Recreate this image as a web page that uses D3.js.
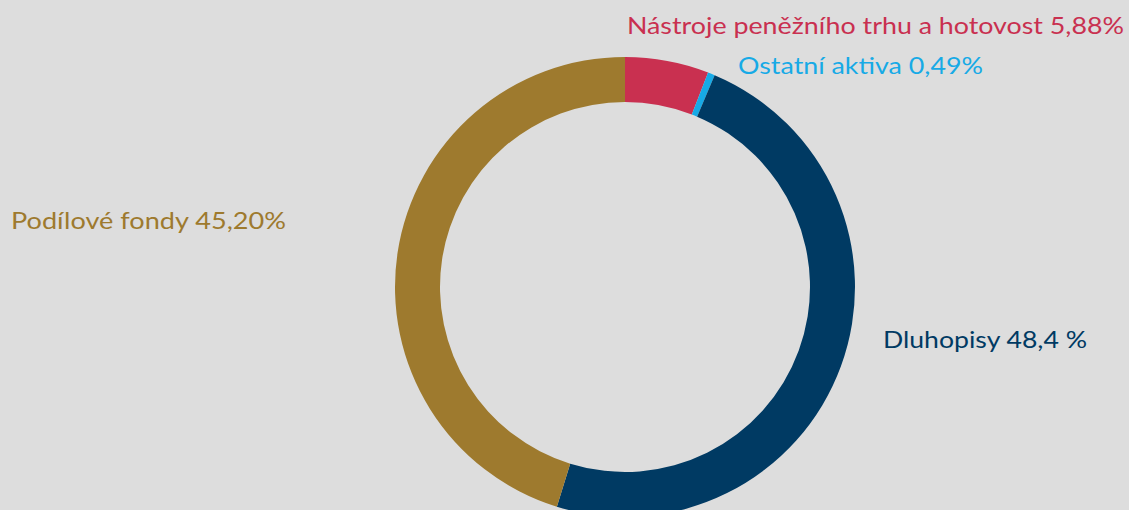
<!DOCTYPE html>
<html lang="cs">
<head>
<meta charset="UTF-8">
<title>Složení portfolia</title>
<script src="https://d3js.org/d3.v7.min.js"></script>
<style>
  html, body { margin: 0; padding: 0; background: #dddddd; }
  svg { display: block; }
  .lbl { font-family: Lato, "Open Sans", sans-serif; font-size: 23px; font-weight: 400; }
</style>
</head>
<body>
<div id="chart"></div>
<script>
// data
var categories = ["Nástroje peněžního trhu a hotovost", "Ostatní aktiva", "Dluhopisy", "Podílové fondy"];
var values = [5.88, 0.49, 48.4, 45.2];
var valueLabels = ["5,88%", "0,49%", "48,4 %", "45,20%"];
var colors = ["#c93050", "#17aae6", "#003a63", "#9e7a2e"];

var width = 1129, height = 510;
var cx = 625, cy = 287, outerR = 230, innerR = 185;

var svg = d3.select("#chart").append("svg")
    .attr("width", width)
    .attr("height", height);

var pie = d3.pie().sort(null).value(function(d){ return d; });
var arc = d3.arc().innerRadius(innerR).outerRadius(outerR);

var g = svg.append("g").attr("transform", "translate(" + cx + "," + cy + ")");

g.selectAll("path")
    .data(pie(values))
    .enter().append("path")
    .attr("d", arc)
    .attr("fill", function(d, i){ return colors[i]; });

// label placement (x, baseline y, width) per slice
var labelPos = [
    [627, 34, 497],
    [738, 74, 245],
    [883, 348, 204],
    [11, 229, 275]
];

svg.selectAll("text.lbl")
    .data(categories)
    .enter().append("text")
    .attr("class", "lbl")
    .attr("x", function(d, i){ return labelPos[i][0]; })
    .attr("y", function(d, i){ return labelPos[i][1]; })
    .attr("textLength", function(d, i){ return labelPos[i][2]; })
    .attr("lengthAdjust", "spacingAndGlyphs")
    .attr("fill", function(d, i){ return colors[i]; })
    .text(function(d, i){ return d + " " + valueLabels[i]; });
</script>
</body>
</html>
